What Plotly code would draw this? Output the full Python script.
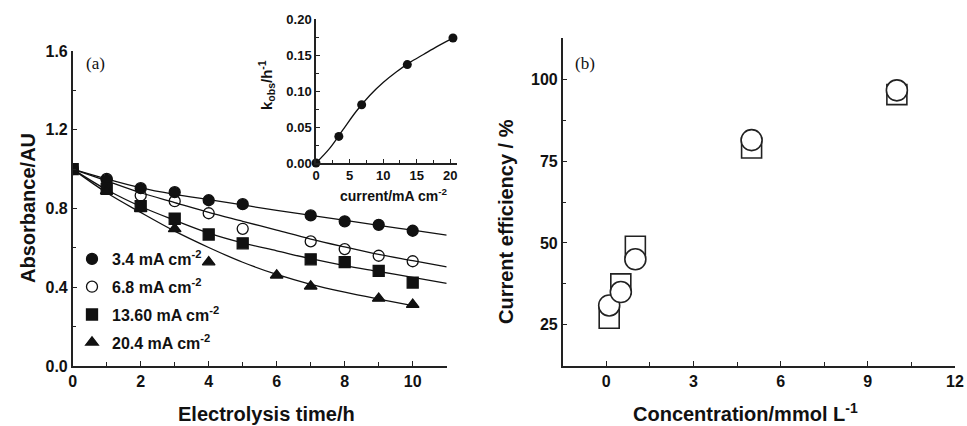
import plotly.graph_objects as go

W, H = 967, 426

# ---------------- Panel (a) data ----------------
time_h = [0, 1, 2, 3, 4, 5, 7, 8, 9, 10]
abs_34 = [1.0, 0.945, 0.903, 0.883, 0.842, 0.822, 0.765, 0.735, 0.717, 0.687]
abs_68 = [1.0, 0.95, 0.866, 0.837, 0.776, 0.697, 0.633, 0.594, 0.56, 0.532]
abs_136 = [1.0, 0.90, 0.812, 0.748, 0.668, 0.623, 0.542, 0.528, 0.483, 0.424]
time_204 = [0, 1, 2, 3, 4, 6, 7, 9, 10]
abs_204 = [1.0, 0.89, 0.80, 0.697, 0.528, 0.461, 0.405, 0.343, 0.312]

# fitted curves
fit_t = [0, 1, 2, 3, 4, 5, 6, 7, 8, 9, 10, 11]
fit_34 = [1.0, 0.95, 0.905, 0.872, 0.845, 0.818, 0.79, 0.765, 0.74, 0.714, 0.69, 0.665]
fit_68 = [1.0, 0.94, 0.88, 0.83, 0.78, 0.735, 0.69, 0.645, 0.605, 0.567, 0.535, 0.503]
fit_136 = [1.0, 0.895, 0.81, 0.74, 0.675, 0.625, 0.585, 0.545, 0.51, 0.48, 0.45, 0.42]
fit_t_204 = [0, 1, 2, 3, 4, 5, 6, 7, 8, 9, 10]
fit_204 = [1.0, 0.88, 0.78, 0.685, 0.602, 0.527, 0.465, 0.415, 0.375, 0.34, 0.307]

legend_labels = ["3.4 mA cm<sup>-2</sup>", "6.8 mA cm<sup>-2</sup>",
                 "13.60 mA cm<sup>-2</sup>", "20.4 mA cm<sup>-2</sup>"]

# ---------------- Inset data ----------------
current = [0, 3.4, 6.8, 13.6, 20.4]
kobs = [0.0, 0.037, 0.081, 0.137, 0.174]
fit_current = [0, 2, 4, 6, 8, 10, 12, 14, 16, 18, 20, 20.4]
fit_kobs = [0.0, 0.02, 0.046, 0.072, 0.094, 0.112, 0.127, 0.14, 0.151, 0.162, 0.172, 0.174]

# ---------------- Panel (b) data ----------------
conc = [0.1, 0.5, 1.0, 5.0, 10.0]
eff_square = [27.0, 37.5, 49.0, 79.0, 95.3]
eff_circle = [30.9, 35.0, 45.0, 81.4, 96.6]

FONT = "Liberation Sans, Arial, sans-serif"
AX = "#222222"

def px_x(p):
    return p / W

def px_y(p):
    return 1 - p / H

fig = go.Figure()

# Panel (a) fitted lines
for xs, ys in [(fit_t, fit_34), (fit_t, fit_68), (fit_t, fit_136), (fit_t_204, fit_204)]:
    fig.add_trace(go.Scatter(x=xs, y=ys, mode="lines", line=dict(color="#111", width=1.3, shape="spline"),
                             showlegend=False, xaxis="x", yaxis="y", hoverinfo="skip"))

# Panel (a) markers
specs = [
    (time_h, abs_34, "circle"),
    (time_h, abs_68, "circle-open"),
    (time_h, abs_136, "square"),
    (time_204, abs_204, "triangle-up"),
]
for i, ((xs, ys, sym), lab) in enumerate(zip(specs, legend_labels)):
    fig.add_trace(go.Scatter(x=xs, y=ys, mode="markers", name=lab, legendgroup=f"g{i}",
                             marker=dict(symbol=sym, size=11, color="#111", line=dict(color="#111", width=1.3)),
                             xaxis="x", yaxis="y"))

# Inset
fig.add_trace(go.Scatter(x=fit_current, y=fit_kobs, mode="lines", line=dict(color="#111", width=1.3, shape="spline"),
                         showlegend=False, xaxis="x3", yaxis="y3", hoverinfo="skip", cliponaxis=False))
fig.add_trace(go.Scatter(x=current, y=kobs, mode="markers", marker=dict(symbol="circle", size=9, color="#111"),
                         showlegend=False, xaxis="x3", yaxis="y3", cliponaxis=False))

# Panel (b)
fig.add_trace(go.Scatter(x=conc, y=eff_square, mode="markers",
                         marker=dict(symbol="square-open", size=20, color="#222", line=dict(width=1.6)),
                         showlegend=False, xaxis="x2", yaxis="y2"))
fig.add_trace(go.Scatter(x=conc, y=eff_circle, mode="markers",
                         marker=dict(symbol="circle", size=21, color="white", line=dict(color="#222", width=1.6)),
                         showlegend=False, xaxis="x2", yaxis="y2"))

tickfont = dict(family=FONT, size=16, color="#111", weight="bold")
small_tickfont = dict(family=FONT, size=13, color="#111", weight="bold")

def axis(domain, rng, dtick, minor_dtick, tfont=tickfont, anchor=None, tick0=0, ticklen=5):
    return dict(domain=domain, range=rng, dtick=dtick, tick0=tick0, ticks="inside", ticklen=ticklen,
                tickwidth=1.3, tickcolor=AX, showline=True, linecolor=AX, linewidth=1.5,
                showgrid=False, zeroline=False, tickfont=tfont, anchor=anchor, automargin=False,
                minor=dict(dtick=minor_dtick, ticks="inside", ticklen=ticklen - 1, tickwidth=1.3, tickcolor=AX))

fig.update_layout(
    width=W, height=H, margin=dict(l=0, r=0, t=0, b=0, autoexpand=False),
    paper_bgcolor="white", plot_bgcolor="rgba(0,0,0,0)",
    xaxis=axis([px_x(72.7), px_x(446.7)], [0, 11], 2, 1, anchor="y"),
    yaxis={**axis([px_y(366), px_y(51)], [0, 1.6], 0.4, 0.2, anchor="x"), "tickformat": ".1f"},
    xaxis2=axis([px_x(562.7), px_x(955)], [-1.5, 12], 3, 1.5, anchor="y2"),
    yaxis2=axis([px_y(365.7), px_y(38.3)], [12.5, 112.5], 25, 12.5, anchor="x2"),
    xaxis3=axis([px_x(316), px_x(457)], [0, 21], 5, 2.5, tfont=small_tickfont, anchor="y3", ticklen=4),
    yaxis3={**axis([px_y(163), px_y(19.3)], [0, 0.2], 0.05, 0.025, tfont=small_tickfont, anchor="x3", ticklen=4),
            "tickformat": ".2f"},
    legend=dict(x=px_x(72), y=px_y(242), xanchor="left", yanchor="top", bgcolor="rgba(0,0,0,0)",
                font=dict(family=FONT, size=16, color="#111", weight="bold"), tracegroupgap=4,
                itemwidth=30),
    showlegend=True,
)

ann_font = dict(family=FONT, size=20, color="#111", weight="bold")
annotations = [
    dict(text="Absorbance/AU", x=px_x(28), y=px_y(208), textangle=-90, font=ann_font),
    dict(text="Electrolysis time/h", x=px_x(266), y=px_y(414), font=ann_font),
    dict(text="Current efficiency / %", x=px_x(506), y=px_y(222), textangle=-90, font=ann_font),
    dict(text="Concentration/mmol L<sup>-1</sup>", x=px_x(745), y=px_y(412), font=ann_font),
    dict(text="current/mA cm<sup>-2</sup>", x=px_x(394), y=px_y(195),
         font=dict(family=FONT, size=14, color="#111", weight="bold")),
    dict(text="k<sub>obs</sub>/h<sup>-1</sup>", x=px_x(266), y=px_y(85), textangle=-90,
         font=dict(family=FONT, size=15, color="#111", weight="bold")),
    dict(text="(a)", x=px_x(95), y=px_y(63), font=dict(family="Liberation Serif, Times New Roman, serif", size=17, color="#111")),
    dict(text="(b)", x=px_x(585), y=px_y(64), font=dict(family="Liberation Serif, Times New Roman, serif", size=17, color="#111")),
]
for a in annotations:
    a.update(xref="paper", yref="paper", showarrow=False, xanchor="center", yanchor="middle")
fig.update_layout(annotations=annotations)

fig.write_html("out.html", config={"displayModeBar": False},
               post_script="document.body.style.margin='0px';document.body.style.overflow='hidden';")
